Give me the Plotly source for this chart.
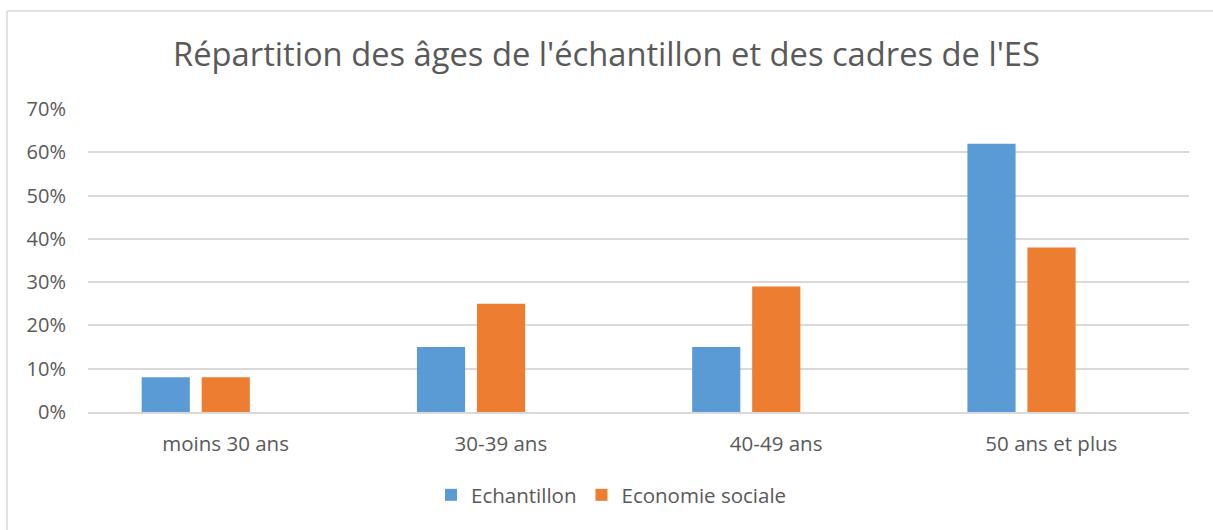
import plotly.graph_objects as go

categories = ["moins 30 ans", "30-39 ans", "40-49 ans", "50 ans et plus"]
echantillon = [0.08, 0.15, 0.15, 0.62]
economie_sociale = [0.08, 0.25, 0.29, 0.38]
y_ticks = [0, 0.1, 0.2, 0.3, 0.4, 0.5, 0.6, 0.7]
y_tick_labels = ["0%", "10%", "20%", "30%", "40%", "50%", "60%", "70%"]

FONT = "Open Sans"
GREY = "#595959"
BORDER = "#D9D9D9"

W, H = 1213, 530
L, R, T, B = 88, 24, 109, 118
pw, ph = W - L - R, H - T - B

fig = go.Figure()
fig.add_trace(go.Bar(name="Echantillon", x=categories, y=echantillon,
                     marker=dict(color="#5B9BD5", line=dict(width=0)),
                     width=0.175, offset=-0.305))
fig.add_trace(go.Bar(name="Economie sociale", x=categories, y=economie_sociale,
                     marker=dict(color="#ED7D31", line=dict(width=0)),
                     width=0.175, offset=-0.087))

fig.update_layout(
    width=W, height=H,
    margin=dict(l=L, r=R, t=T, b=B),
    paper_bgcolor="white", plot_bgcolor="white",
    font=dict(family=FONT, color=GREY, size=20),
    title=dict(text="Répartition des âges de l'échantillon et des cadres de l'ES",
               x=0.5, xanchor="center", y=1 - 55 / H, yanchor="middle",
               font=dict(size=32.7, color=GREY, family=FONT)),
    barmode="group",
    showlegend=True,
    legend=dict(orientation="h", x=0.5 - 27 / pw, xanchor="center", y=(T + ph - 495) / ph,
                yanchor="middle", font=dict(size=20.5, color=GREY), itemwidth=30,
                traceorder="normal"),
    xaxis=dict(showgrid=False, showline=True, linecolor=BORDER, linewidth=1.5,
               ticks="", tickfont=dict(size=20.5, color=GREY), ticklabelstandoff=13,
               zeroline=False),
    yaxis=dict(range=[0, 0.7], tickvals=y_ticks, ticktext=y_tick_labels,
               showgrid=True, gridcolor=BORDER, gridwidth=1.5,
               zeroline=False, showline=False, ticks="",
               tickfont=dict(size=20, color=GREY), ticklabelstandoff=21),
    shapes=[
        dict(type="line", xref="paper", yref="paper",
             x0=(7 - L) / pw, x1=(W + 5 - L) / pw,
             y0=(T + ph - 11) / ph, y1=(T + ph - 11) / ph,
             line=dict(color=BORDER, width=1.5), layer="below"),
        dict(type="line", xref="paper", yref="paper",
             x0=(7 - L) / pw, x1=(7 - L) / pw,
             y0=(T + ph - 11) / ph, y1=(T + ph - H - 5) / ph,
             line=dict(color=BORDER, width=1.5), layer="below"),
    ],
)

fig.write_html("out.html", config={"displayModeBar": False},
               post_script="document.body.style.margin='0';document.body.style.overflow='hidden';")
